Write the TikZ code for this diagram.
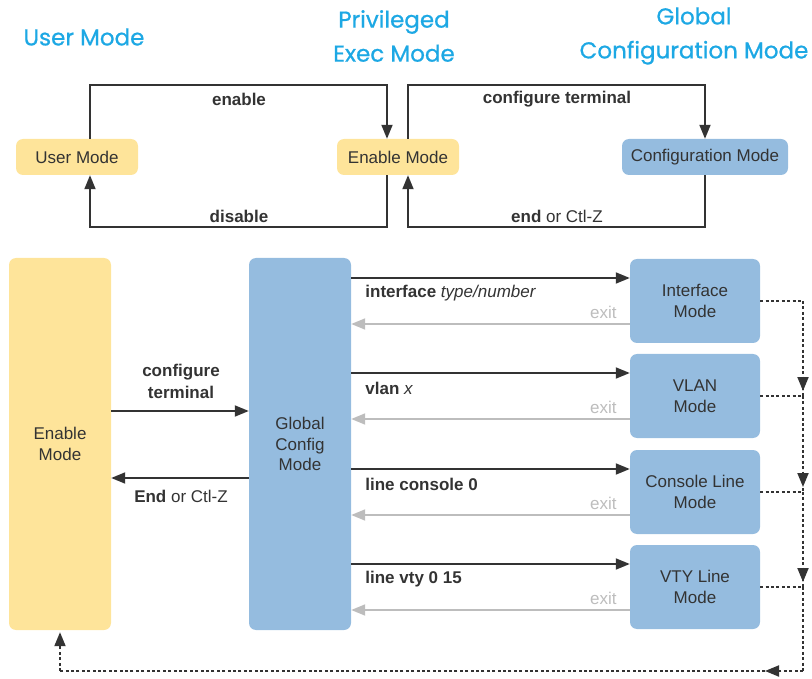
\documentclass[tikz,border=0pt]{standalone}
\usepackage{fontspec}
\setmainfont{Liberation Sans}
\newfontfamily\titlefont[FakeBold=0.8]{Poppins}
\usetikzlibrary{arrows.meta,decorations.markings}

\definecolor{modeyellow}{HTML}{FEE49A}
\definecolor{modeblue}{HTML}{95BCDF}
\definecolor{titlecyan}{HTML}{1DA8E4}
\definecolor{inktext}{HTML}{333333}
\definecolor{exitgray}{HTML}{BDBDBD}

\tikzset{
  modetip/.tip={Triangle[length=14pt,width=11pt]},
  modebox/.style={rounded corners=7pt, draw=none, text=inktext, align=center,
    inner sep=0pt, font=\fontsize{17}{20.5}\selectfont},
  ybox/.style={modebox, fill=modeyellow},
  bbox/.style={modebox, fill=modeblue},
  conn/.style={draw=inktext, line width=1.8pt, -{modetip}},
  exitconn/.style={draw=exitgray, line width=1.8pt, -{modetip}},
  dline/.style={draw=inktext, line width=1.9pt, dash pattern=on 3pt off 2.4pt},
  midtip/.style={postaction={decorate}, decoration={markings,
    mark=at position #1 with {\arrow[inktext]{modetip}}}},
  lbl/.style={text=inktext, font=\fontsize{17}{20.5}\selectfont, inner sep=0pt},
  exitlbl/.style={text=exitgray, font=\fontsize{17}{20.5}\selectfont, inner sep=0pt, anchor=east},
  heading/.style={text=titlecyan, font=\titlefont\fontsize{23}{34}\selectfont, align=center, inner sep=0pt}
}

\begin{document}
\begin{tikzpicture}[x=1pt, y=-1pt]
\useasboundingbox (0,0) rectangle (812,679);

% headings
\node[heading] (hUser) at (84,37) {User Mode};
\node[heading] (hPriv) at (394,36) {Privileged\\Exec Mode};
\node[heading] (hGlob) at (694,36) {Global\\Configuration Mode};

% ---------- upper part: mode summary ----------
\node[ybox, minimum width=122, minimum height=36] (um) at (77,157) {User Mode};
\node[ybox, minimum width=122, minimum height=36] (em) at (398,157) {Enable Mode};
\node[bbox, minimum width=166, minimum height=36] (cm) at (705,157) {Configuration Mode};

\coordinate (t1) at (239,85);
\coordinate (b1) at (239,227);
\coordinate (t2) at (557,85);
\coordinate (b2) at (557,227);

\draw[conn] ([xshift=13pt]um.north) |- (t1) -| ([xshift=-11pt]em.north);
\draw[conn] ([xshift=-11pt]em.south) |- (b1) -| ([xshift=13pt]um.south);
\draw[conn] ([xshift=10pt]em.north) |- (t2) -| (cm.north);
\draw[conn] (cm.south) |- (b2) -| ([xshift=10pt]em.south);

\node[lbl, font=\fontsize{17}{20.5}\selectfont\bfseries] (lEnable) at (239,99) {enable};
\node[lbl, font=\fontsize{17}{20.5}\selectfont\bfseries] (lDisable) at (239,216) {disable};
\node[lbl, font=\fontsize{17}{20.5}\selectfont\bfseries] (lConfT) at (557,99) {configure terminal};
\node[lbl] (lEndT) at (557,216) {\textbf{end} or Ctl-Z};

% ---------- lower part: configuration sub-modes ----------
\node[ybox, minimum width=102, minimum height=372] (en) at (60,444) {Enable\\Mode};
\node[bbox, minimum width=102, minimum height=372] (gc) at (300,444) {Global\\Config\\Mode};

\node[bbox, minimum width=130, minimum height=84] (s1) at (695,301) {Interface\\Mode};
\node[bbox, minimum width=130, minimum height=84] (s2) at (695,396) {VLAN\\Mode};
\node[bbox, minimum width=130, minimum height=84] (s3) at (695,492) {Console Line\\Mode};
\node[bbox, minimum width=130, minimum height=84] (s4) at (695,587) {VTY Line\\Mode};

% enable <-> global config
\draw[conn] ([yshift=33pt]en.east) -- ([yshift=33pt]en.east -| gc.west);
\draw[conn] ([yshift=-34pt]gc.west) -- ([yshift=-34pt]gc.west -| en.east);
\node[lbl, align=center, font=\fontsize{17}{22}\selectfont\bfseries] (lCT) at (181,381) {configure\\terminal};
\node[lbl] (lEnd) at (181,496) {\textbf{End} or Ctl-Z};

% global config <-> sub-modes
\foreach \s/\cmd in {s1/{\textbf{interface} \textit{type/number}},
                     s2/{\textbf{vlan} \textit{x}},
                     s3/{\textbf{line console 0}},
                     s4/{\textbf{line vty 0 15}}}{
  \draw[conn] ([yshift=23pt]\s.west -| gc.east) -- ([yshift=23pt]\s.west);
  \draw[exitconn] ([yshift=-23pt]\s.west) -- ([yshift=-23pt]\s.west -| gc.east);
  \node[lbl, anchor=west] (cmd-\s) at ([xshift=14pt, yshift=8pt]\s.west -| gc.east) {\cmd};
  \node[exitlbl] (exit-\s) at ([xshift=-13pt, yshift=-11pt]\s.west) {exit};
}

% dashed return path to enable mode
\coordinate (busx) at (803,0);
\coordinate (corner) at (803,671);
\coordinate (cornerL) at (60,671);

\draw[dline] (s1.east) -- (s1.east -| busx);
\draw[dline] (s2.east) -- (s2.east -| busx);
\draw[dline] (s3.east) -- (s3.east -| busx);
\draw[dline] (s4.east) -- (s4.east -| busx);
\draw[dline, midtip=-5pt] (s1.east -| busx) -- (s2.east -| busx);
\draw[dline, midtip=-5pt] (s2.east -| busx) -- (s3.east -| busx);
\draw[dline, midtip=-5pt] (s3.east -| busx) -- (s4.east -| busx);
\draw[dline] (s4.east -| busx) -- (corner);
\draw[dline, midtip=38pt] (corner) -- (cornerL);
\draw[dline, -{modetip}] (cornerL) -- ([yshift=-2pt]en.south);
\end{tikzpicture}
\end{document}
